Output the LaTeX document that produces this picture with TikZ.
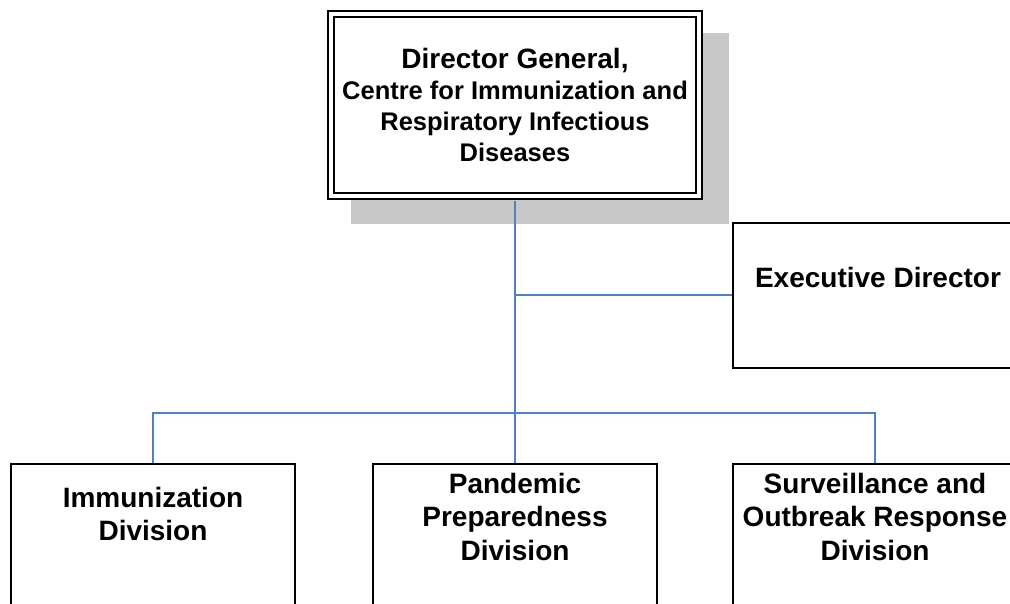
\documentclass[tikz,border=0pt]{standalone}
\usepackage{fontspec}
\setmainfont{Liberation Sans}
\usetikzlibrary{positioning,calc,backgrounds}
\definecolor{linkblue}{RGB}{79,129,189}
\definecolor{shadowgray}{RGB}{200,200,200}

\begin{document}
\begin{tikzpicture}[x=1pt,y=-1pt,
    box/.style={draw,line width=1.6pt,minimum width=284pt,minimum height=170pt,anchor=north},
    boxtext/.style={font=\bfseries\fontsize{28}{33.5}\selectfont,align=center,inner sep=0pt},
    link/.style={linkblue,line width=1.6pt}]
  \useasboundingbox (0,0) rectangle (1010,604);
  \clip (0,0) rectangle (1010,604);
  % director general
  \node[draw,line width=2.3pt,double,double distance=3.6pt,fill=white,
        minimum width=368pt,minimum height=181.5pt,align=center,
        font=\bfseries\fontsize{25.5}{31}\selectfont] (dg) at (515,105)
    {{\fontsize{28}{31}\selectfont Director General,}\\Centre for Immunization and\\Respiratory Infectious\\Diseases};
  \begin{scope}[on background layer]
    \fill[shadowgray] ($(dg.north west)+(21,20)$) rectangle ($(dg.south east)+(29,27)$);
  \end{scope}
  % executive director
  \node[box,minimum width=290pt,minimum height=145pt] (ed) at (878,222) {};
  \node[boxtext,below=45pt of ed.north] (edtext) {Executive Director};
  % divisions
  \node[box] (imm) at (153,463) {};
  \node[boxtext,below=24pt of imm.north] (immtext) {Immunization\\Division};
  \node[box] (pan) at (515,463) {};
  \node[boxtext,below=10pt of pan.north] (pantext) {Pandemic\\Preparedness\\Division};
  \node[box] (sur) at (875,463) {};
  \node[boxtext,below=10pt of sur.north] (surtext) {Surveillance and\\Outbreak Response\\Division};
  % connectors
  \coordinate (bus) at (515,413);
  \draw[link,shorten <=4pt] (dg.south) -- (bus);
  \draw[link] (ed.west) -- (ed.west -| dg.south);
  \draw[link] (imm.north) |- (bus) -| (sur.north);
  \draw[link] (pan.north) -- (bus);
\end{tikzpicture}
\end{document}
